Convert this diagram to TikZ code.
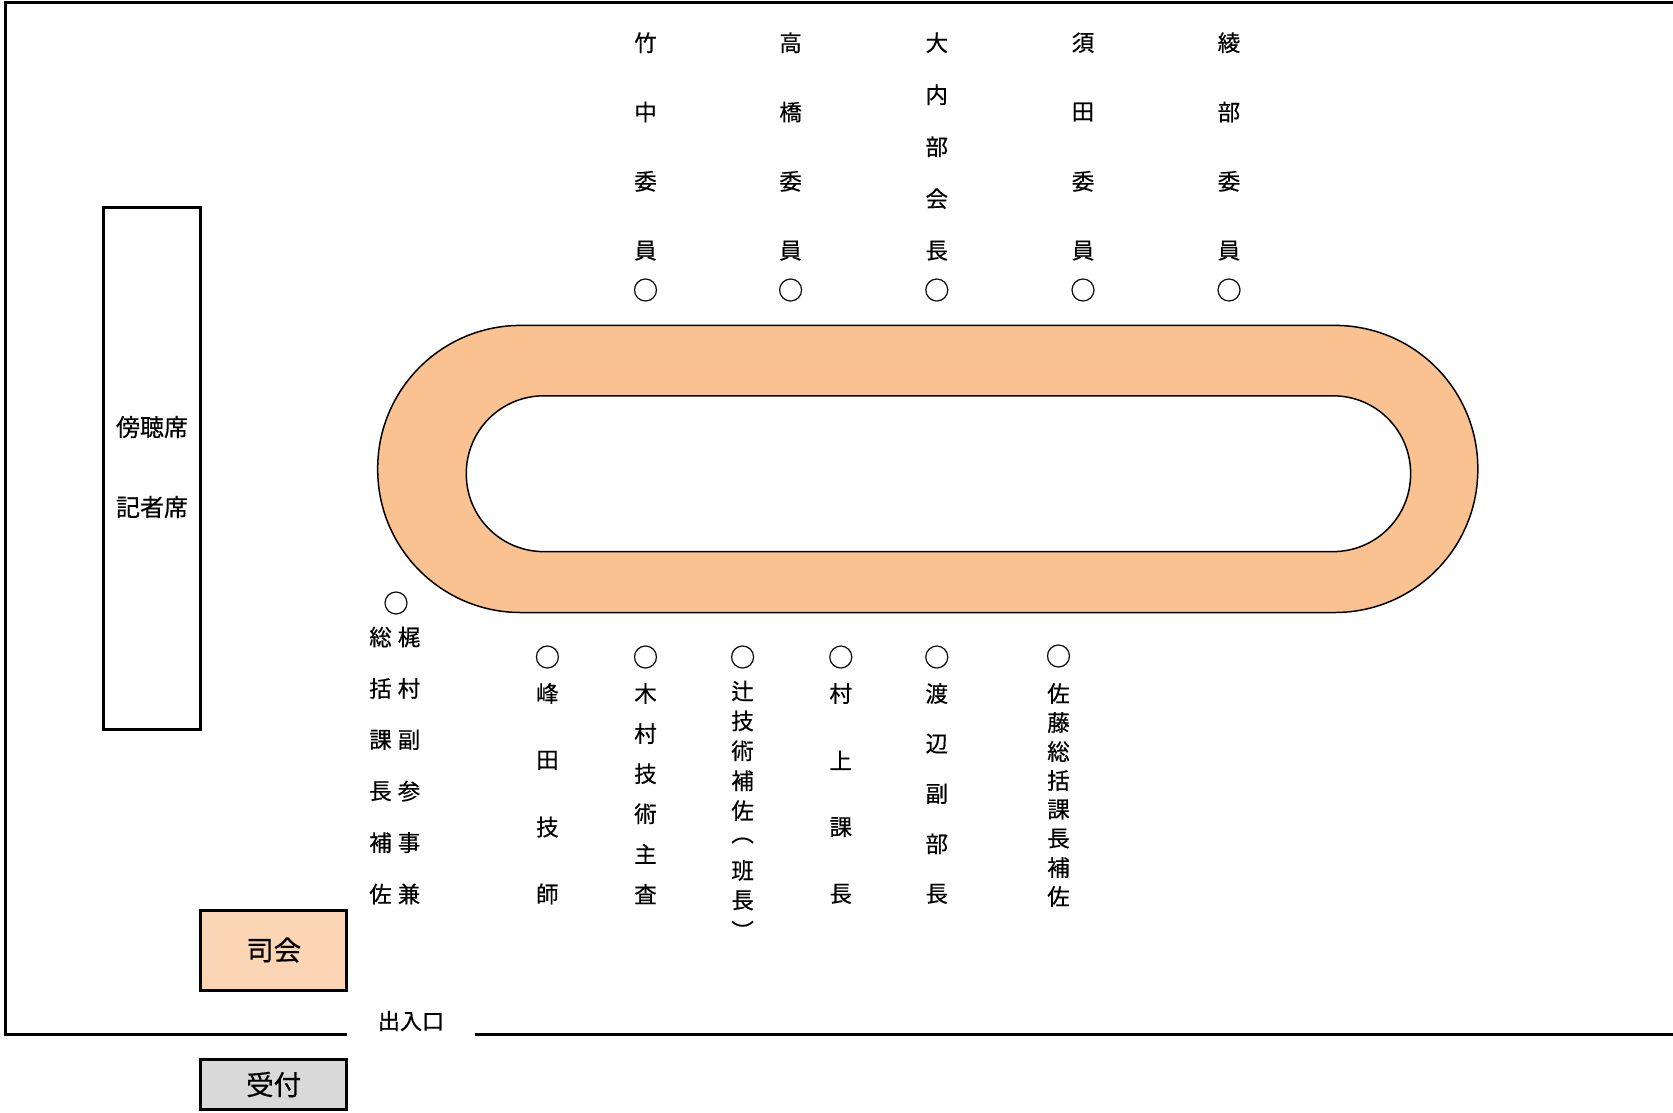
\documentclass[tikz,border=0pt]{standalone}
\usepackage{fontspec}
\setmainfont{Noto Sans CJK JP}[FakeBold=0.5]
\definecolor{ovalc}{HTML}{FAC191}
\definecolor{mcc}{HTML}{FCD5B4}
\definecolor{rcc}{HTML}{D9D9D9}
\tikzset{
  ch/.style={inner sep=0pt, font=\fontsize{22.5}{22.5}\selectfont},
  seat/.style={inner sep=0pt, font=\fontsize{25.5}{25.5}\selectfont},
  wall/.style={line width=3pt},
  boxline/.style={draw, line width=3pt, inner sep=0pt},
  lbl/.style={inner sep=0pt, font=\fontsize{24}{24}\selectfont},
}
\newcommand\vcol[5]{%
  \foreach \c [count=\i] in {#5} {
    \node[ch] (#1-\i) at (#2, {#3+(\i-1)*#4}) {\c};
  }%
}
\begin{document}
\begin{tikzpicture}[x=1pt,y=-1pt]
\useasboundingbox (0,0) rectangle (1673,1112);
% walls
\coordinate (tr) at (1673,2);
\coordinate (tl) at (5,2);
\coordinate (bl) at (5,1034);
\coordinate (d1) at (347,1034);
\coordinate (d2) at (475,1034);
\coordinate (br) at (1673,1034);
\draw[wall] (tr) -- (tl) -- (bl) -- (d1);
\draw[wall] (d2) -- (br);
\node[lbl, font=\fontsize{22}{22}\selectfont] (door) at (411,1021) {出入口};
% gallery
\node[boxline, minimum width=97pt, minimum height=522pt] (gallery) at (152,468) {};
\node[lbl] (g1) at (152,427) {傍聴席};
\node[lbl] (g2) at (152,507) {記者席};
% MC and reception
\node[boxline, fill=mcc, minimum width=146pt, minimum height=80pt, font=\fontsize{27.5}{27.5}\selectfont] (mc) at (273.7,950) {司会};
\node[boxline, fill=rcc, minimum width=146pt, minimum height=50pt, font=\fontsize{27.5}{27.5}\selectfont] (rc) at (273.7,1084.5) {受付};
% table
\draw[fill=ovalc, line width=1.5pt, even odd rule]
  [rounded corners=143pt] (377.7,325.4) rectangle (1477.8,612.5)
  [rounded corners=77.5pt] (466.3,395.8) rectangle (1410.6,551.6);
% top seats
\vcol{take}{645.5}{42.7}{69.3}{竹,中,委,員}
\vcol{taka}{790.6}{42.7}{69.3}{高,橋,委,員}
\vcol{ouchi}{936.8}{42.7}{52}{大,内,部,会,長}
\vcol{suda}{1083}{42.7}{69.3}{須,田,委,員}
\vcol{ayabe}{1229}{42.7}{69.3}{綾,部,委,員}
\node[seat] (take-s) at (645.5,290) {○};
\node[seat] (taka-s) at (790.6,290) {○};
\node[seat] (ouchi-s) at (936.8,290) {○};
\node[seat] (suda-s) at (1083,290) {○};
\node[seat] (ayabe-s) at (1229,290) {○};
% bottom seats
\node[seat] (kaji-s) at (396,603) {○};
\vcol{kajiA}{409}{637}{51.4}{梶,村,副,参,事,兼}
\vcol{kajiB}{380.5}{637}{51.4}{総,括,課,長,補,佐}
\node[seat] (mine-s) at (547.4,657) {○};
\vcol{mine}{547.4}{693.5}{66.8}{峰,田,技,師}
\node[seat] (kimu-s) at (645.5,657) {○};
\vcol{kimu}{645.5}{693.5}{40.1}{木,村,技,術,主,査}
\node[seat] (tsuji-s) at (742.6,657) {○};
\vcol{tsuji}{742.6}{691}{29.9}{辻,技,術,補,佐,︵,班,長,︶}
\node[seat] (mura-s) at (840.8,657) {○};
\vcol{mura}{840.8}{693.5}{66.8}{村,上,課,長}
\node[seat] (wata-s) at (936.8,657) {○};
\vcol{wata}{936.8}{693.5}{50.1}{渡,辺,副,部,長}
\node[seat] (sato-s) at (1058.5,656) {○};
\vcol{sato}{1058.5}{693.5}{29}{佐,藤,総,括,課,長,補,佐}
\end{tikzpicture}
\end{document}
